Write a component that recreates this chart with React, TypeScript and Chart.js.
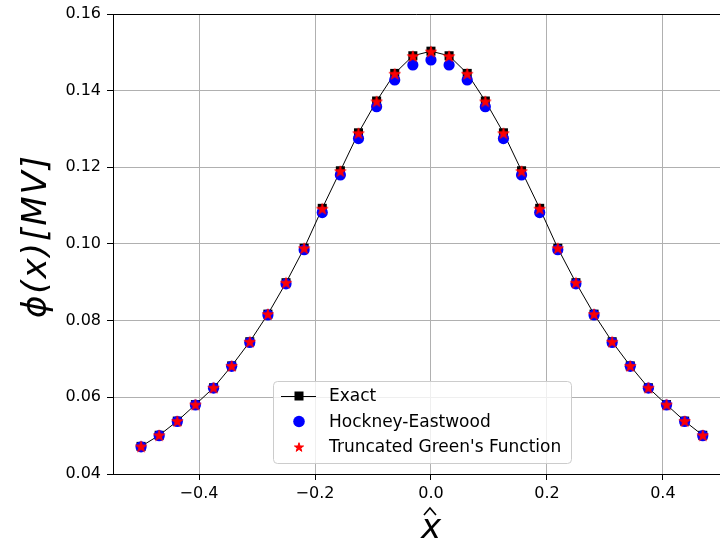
import React, { useEffect, useRef } from 'react';
import { Chart, registerables } from 'chart.js';

Chart.register(...registerables);

const X_VALUES = [
  -0.5, -0.46875, -0.4375, -0.40625, -0.375, -0.34375, -0.3125, -0.28125,
  -0.25, -0.21875, -0.1875, -0.15625, -0.125, -0.09375, -0.0625, -0.03125,
  0, 0.03125, 0.0625, 0.09375, 0.125, 0.15625, 0.1875, 0.21875,
  0.25, 0.28125, 0.3125, 0.34375, 0.375, 0.40625, 0.4375, 0.46875,
];
const EXACT = [
  0.0472, 0.0501, 0.0538, 0.0581, 0.0625, 0.0682, 0.0745, 0.0817,
  0.0899, 0.0989, 0.1093, 0.1191, 0.129, 0.1373, 0.1445, 0.1491,
  0.1503, 0.1491, 0.1445, 0.1373, 0.129, 0.1191, 0.1093, 0.0989,
  0.0899, 0.0817, 0.0745, 0.0682, 0.0625, 0.0581, 0.0538, 0.0501,
];
const HOCKNEY = [
  0.0471, 0.05, 0.0537, 0.058, 0.0624, 0.0681, 0.0743, 0.0815,
  0.0896, 0.0985, 0.1082, 0.118, 0.1275, 0.1358, 0.1428, 0.1467,
  0.148, 0.1467, 0.1428, 0.1358, 0.1275, 0.118, 0.1082, 0.0985,
  0.0896, 0.0815, 0.0743, 0.0681, 0.0624, 0.058, 0.0537, 0.05,
];
const TRUNCATED = [
  0.0472, 0.0501, 0.0538, 0.0581, 0.0625, 0.0682, 0.0745, 0.0817,
  0.0899, 0.0989, 0.1092, 0.119, 0.1289, 0.1372, 0.1444, 0.149,
  0.1502, 0.149, 0.1444, 0.1372, 0.1289, 0.119, 0.1092, 0.0989,
  0.0899, 0.0817, 0.0745, 0.0682, 0.0625, 0.0581, 0.0538, 0.0501,
];
const SERIES_LABELS = ['Exact', 'Hockney-Eastwood', "Truncated Green's Function"];
const X_TICKS = [-0.4, -0.2, 0, 0.2, 0.4];
const Y_TICKS = [0.04, 0.06, 0.08, 0.1, 0.12, 0.14, 0.16];
const Y_TITLE = 'ϕ(x)[MV]';
const X_TITLE = 'x';

const FONT = 'DejaVu Sans';

function makeStar(r: number, color: string): HTMLCanvasElement {
  const size = Math.ceil(r * 2 + 4);
  const c = document.createElement('canvas');
  c.width = size;
  c.height = size;
  const ctx = c.getContext('2d')!;
  ctx.fillStyle = color;
  ctx.strokeStyle = color;
  ctx.lineWidth = 1;
  ctx.lineJoin = 'miter';
  ctx.beginPath();
  for (let i = 0; i < 10; i++) {
    const rad = i % 2 === 0 ? r : r * 0.382;
    const a = -Math.PI / 2 + (i * Math.PI) / 5;
    const px = size / 2 + rad * Math.cos(a);
    const py = size / 2 + rad * Math.sin(a) + r * 0.1;
    if (i === 0) ctx.moveTo(px, py);
    else ctx.lineTo(px, py);
  }
  ctx.closePath();
  ctx.fill();
  ctx.stroke();
  return c;
}

function fmtX(v: number): string {
  if (Math.abs(v) < 1e-9) return '0.0';
  return (v < 0 ? '\u2212' : '') + Math.abs(v).toFixed(1);
}

export default function App() {
  const ref = useRef<HTMLCanvasElement | null>(null);

  useEffect(() => {
    if (!ref.current) return;
    const star = makeStar(5.8, '#ff0000');
    const legendStar = makeStar(4.8, '#ff0000');

    const framePlugin = {
      id: 'frameAndTitles',
      afterDraw(chart: any) {
        const { ctx, chartArea } = chart;
        ctx.save();
        // top spine
        ctx.strokeStyle = '#000';
        ctx.lineWidth = 1;
        ctx.beginPath();
        ctx.moveTo(chartArea.left, Math.round(chartArea.top) + 0.5);
        ctx.lineTo(chartArea.right, Math.round(chartArea.top) + 0.5);
        ctx.stroke();

        // y title
        ctx.fillStyle = '#000';
        ctx.save();
        ctx.translate(37, 236);
        ctx.rotate(-Math.PI / 2);
        ctx.font = `italic 34px "${FONT}"`;
        (ctx as any).letterSpacing = '2px';
        ctx.textAlign = 'center';
        ctx.textBaseline = 'middle';
        ctx.fillText(Y_TITLE, 0, 0);
        ctx.restore();

        // x title with hat
        const cx = chart.scales.x.getPixelForValue(0);
        ctx.font = `italic 34px "${FONT}"`;
        ctx.textAlign = 'center';
        ctx.textBaseline = 'alphabetic';
        ctx.fillText(X_TITLE, cx, 538);
        ctx.strokeStyle = '#000';
        ctx.lineWidth = 1.6;
        ctx.beginPath();
        ctx.moveTo(cx - 7, 515);
        ctx.lineTo(cx - 1, 508);
        ctx.lineTo(cx + 5, 515);
        ctx.stroke();

        // legend
        const bx = 273.5, by = 381.5, bw = 298, bh = 82, r = 4;
        ctx.beginPath();
        ctx.moveTo(bx + r, by);
        ctx.lineTo(bx + bw - r, by);
        ctx.arcTo(bx + bw, by, bx + bw, by + r, r);
        ctx.lineTo(bx + bw, by + bh - r);
        ctx.arcTo(bx + bw, by + bh, bx + bw - r, by + bh, r);
        ctx.lineTo(bx + r, by + bh);
        ctx.arcTo(bx, by + bh, bx, by + bh - r, r);
        ctx.lineTo(bx, by + r);
        ctx.arcTo(bx, by, bx + r, by, r);
        ctx.closePath();
        ctx.fillStyle = 'rgba(255,255,255,0.8)';
        ctx.fill();
        ctx.strokeStyle = '#cccccc';
        ctx.lineWidth = 1;
        ctx.stroke();

        const rows = [396, 421.5, 447];
        const mx = 299;
        const labels = chart.data.datasets.map((d: any) => d.label);
        // Exact
        ctx.strokeStyle = '#000';
        ctx.lineWidth = 1;
        ctx.beginPath();
        ctx.moveTo(281, rows[0] + 0.5);
        ctx.lineTo(316, rows[0] + 0.5);
        ctx.stroke();
        ctx.fillStyle = '#000';
        ctx.fillRect(mx - 4.5, rows[0] - 4.5, 9, 9);
        // Hockney
        ctx.fillStyle = '#0000ff';
        ctx.beginPath();
        ctx.arc(mx, rows[1], 5.8, 0, Math.PI * 2);
        ctx.fill();
        // Star
        ctx.drawImage(legendStar, mx - legendStar.width / 2, rows[2] - legendStar.height / 2);

        ctx.fillStyle = '#000';
        ctx.font = `17px "${FONT}"`;
        ctx.textAlign = 'left';
        ctx.textBaseline = 'middle';
        labels.forEach((t: string, i: number) => ctx.fillText(t, 329, rows[i] + 1));
        ctx.restore();
      },
    };

    const tickFont = { family: FONT, size: 16 };

    const chart = new Chart(ref.current, {
      type: 'scatter',
      data: {
        datasets: [
          {
            label: SERIES_LABELS[0],
            data: X_VALUES.map((x, i) => ({ x, y: EXACT[i] })),
            showLine: true,
            borderColor: '#000',
            borderWidth: 1,
            pointStyle: 'rect',
            pointRadius: 6.4,
            pointBackgroundColor: '#000',
            pointBorderColor: '#000',
            pointBorderWidth: 0,
            order: 3,
          },
          {
            label: SERIES_LABELS[1],
            data: X_VALUES.map((x, i) => ({ x, y: HOCKNEY[i] })),
            showLine: false,
            pointStyle: 'circle',
            pointRadius: 5.6,
            pointBackgroundColor: '#0000ff',
            pointBorderColor: '#0000ff',
            pointBorderWidth: 0,
            order: 2,
          },
          {
            label: SERIES_LABELS[2],
            data: X_VALUES.map((x, i) => ({ x, y: TRUNCATED[i] })),
            showLine: false,
            pointStyle: star as any,
            pointRadius: 5.8,
            pointBackgroundColor: '#ff0000',
            pointBorderColor: '#ff0000',
            order: 1,
          },
        ],
      },
      options: {
        animation: false,
        responsive: false,
        layout: { autoPadding: false, padding: { top: 14, right: 0, left: 0, bottom: 0 } },
        plugins: {
          legend: { display: false },
          tooltip: { enabled: false },
        },
        scales: {
          x: {
            type: 'linear',
            min: -0.5484,
            max: 0.4985,
            afterBuildTicks: (s: any) => {
              s.ticks = X_TICKS.map((v) => ({ value: v }));
            },
            afterFit: (s: any) => {
              s.height = 70;
              s.paddingLeft = 0;
              s.paddingRight = 0;
            },
            ticks: {
              callback: (v: any) => fmtX(Number(v)),
              font: tickFont,
              color: '#000',
              padding: 4,
              maxRotation: 0,
              autoSkip: false,
            },
            grid: { color: '#b0b0b0', lineWidth: 1, tickColor: '#000', tickLength: 6 },
            border: { color: '#000', width: 1 },
          },
          y: {
            type: 'linear',
            min: 0.04,
            max: 0.16,
            afterBuildTicks: (s: any) => {
              s.ticks = Y_TICKS.map((v) => ({ value: v }));
            },
            afterFit: (s: any) => {
              s.width = 113;
              s.paddingTop = 0;
              s.paddingBottom = 0;
            },
            ticks: {
              callback: (v: any) => Number(v).toFixed(2),
              font: tickFont,
              color: '#000',
              padding: 6,
              autoSkip: false,
            },
            grid: { color: '#b0b0b0', lineWidth: 1, tickColor: '#000', tickLength: 6 },
            border: { color: '#000', width: 1 },
          },
        },
      },
      plugins: [framePlugin],
    });
    return () => chart.destroy();
  }, []);

  return (
    <div style={{ position: 'fixed', left: 0, top: 0, width: 720, height: 544, background: '#fff' }}>
      <canvas ref={ref} width={720} height={544} style={{ display: 'block', width: 720, height: 544 }} />
    </div>
  );
}
